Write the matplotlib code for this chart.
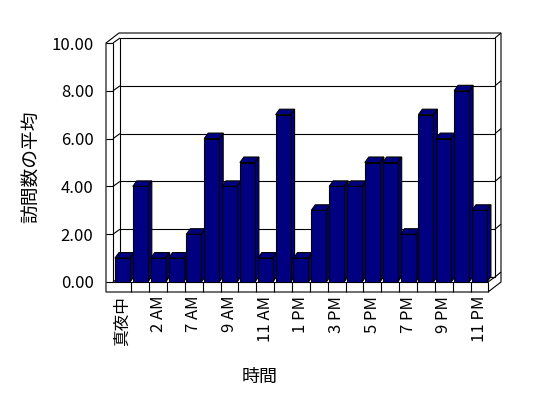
import numpy as np
import matplotlib
matplotlib.use("Agg")
import matplotlib.pyplot as plt
from matplotlib.patches import Polygon

plt.rcParams['font.family'] = ['Noto Sans CJK JP', 'DejaVu Sans']

# data
hours = ['真夜中', '1 AM', '2 AM', '6 AM', '7 AM', '8 AM', '9 AM', '10 AM', '11 AM',
         '12 PM', '1 PM', '2 PM', '3 PM', '4 PM', '5 PM', '6 PM', '7 PM', '8 PM',
         '9 PM', '10 PM', '11 PM']
visits = [1, 4, 1, 1, 2, 6, 4, 5, 1, 7, 1, 3, 4, 4, 5, 5, 2, 7, 6, 8, 3]
y_ticks = [0, 2, 4, 6, 8, 10]

W, H = 548, 398
navy = '#000080'
lw = 0.8

fig = plt.figure(figsize=(W / 100, H / 100), dpi=100)
ax = fig.add_axes([113 / W, (H - 282) / H, 375 / W, 239 / H])
x0, x1 = -0.53, 20.48
ax.set_xlim(x0, x1)
ax.set_ylim(0, 10)
for s in ax.spines.values():
    s.set_visible(False)


def dx(p):
    return p * (x1 - x0) / 375


def dy(p):
    return p * 10 / 239


def poly(pts, fc='white', z=1):
    ax.add_patch(Polygon(pts, closed=True, fc=fc, ec='black', lw=lw,
                         clip_on=False, zorder=z, joinstyle='miter'))


def line(xs, ys, z=2):
    ax.plot(xs, ys, color='black', lw=lw, clip_on=False, zorder=z,
            solid_capstyle='butt')


wx, wy = dx(7), dy(5)      # depth of the walls
tx, ty = dx(6), dy(5)      # back wall thickness
lwx = dx(7)                # left wall thickness
fl = dy(10)                # floor thickness

# outline of walls and floor
poly([(x0 - lwx, -fl), (x0 - lwx, 10), (x0 - lwx + wx + tx, 10 + wy + ty),
      (x1 + wx + tx, 10 + wy + ty), (x1 + wx + tx, -fl + wy + ty), (x1, -fl)])
# back wall front surface
poly([(x0 + wx, wy), (x0 + wx, 10 + wy), (x1 + wx, 10 + wy), (x1 + wx, wy)])

line([x0 - lwx, x0], [10, 10])
line([x0, x0 + wx], [10, 10 + wy])
line([x1 + wx, x1 + wx + tx], [10 + wy, 10 + wy + ty])
line([x0, x0], [0, 10])
line([x0, x1], [0, 0])
line([x1, x1], [-fl, 0])
line([x1, x1 + wx], [0, wy])
line([x1 + wx, x1 + wx + tx], [wy, wy + ty])

# gridlines around the walls
for v in y_ticks[:-1]:
    line([x0 - lwx, x0], [v, v])
    line([x0, x0 + wx], [v, v + wy])
    if v > 0:
        line([x0 + wx, x1 + wx], [v + wy, v + wy])
        line([x1 + wx, x1 + wx + tx], [v + wy, v + wy + ty])

# floor front cells
xs = np.arange(len(visits))
for b in xs[:-1] + 0.5:
    line([b, b], [-fl, 0])

# bars
bw = 15 / 17.85
bdx, bdy = dx(4), dy(5.5)
ax.bar(xs, visits, width=bw, color=navy, edgecolor='black', lw=lw, zorder=5)
for xi, v in zip(xs, visits):
    r, l = xi + bw / 2, xi - bw / 2
    poly([(r, 0), (r, v), (r + bdx, v + bdy), (r + bdx, bdy)], fc=navy, z=4)
    poly([(l, v), (r, v), (r + bdx, v + bdy), (l + bdx, v + bdy)], fc=navy, z=4)

ax.set_xticks(xs[::2])
ax.set_xticklabels(hours[::2], rotation=90, fontsize=12, va='top', ha='center')
ax.set_yticks(y_ticks)
ax.set_yticklabels([f'{v:.2f}' for v in y_ticks], fontsize=12)
ax.tick_params(axis='x', length=0, pad=10)
ax.tick_params(axis='y', length=0, pad=14)

fig.text(260 / W, 1 - 377 / H, '時間', ha='center', va='center', fontsize=13)
fig.text(32 / W, 1 - 167 / H, '訪問数の平均', ha='center', va='center',
         rotation=90, fontsize=13.5)

fig.savefig('out.png', dpi=100)
